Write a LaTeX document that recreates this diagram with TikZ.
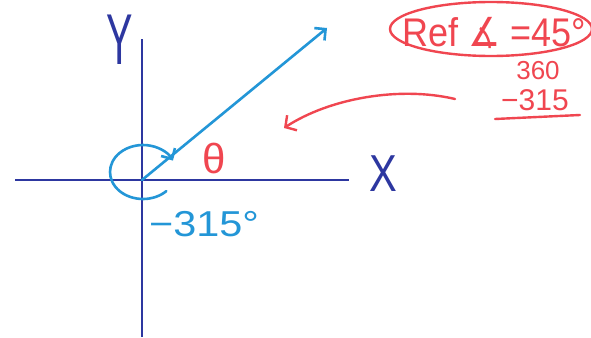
\documentclass[tikz,border=0pt]{standalone}
\usepackage{fontspec}
\setmainfont{Liberation Sans}
\newfontfamily\symfont{DejaVu Sans}
\usetikzlibrary{arrows.meta}
\definecolor{axisblue}{RGB}{45,55,160}
\definecolor{rayblue}{RGB}{35,150,215}
\definecolor{inkred}{RGB}{240,70,80}
\begin{document}
\begin{tikzpicture}[x=1pt,y=-1pt,
  axis/.style={draw=axisblue, line width=2.4pt},
  ray/.style={draw=rayblue, line width=2.6pt, line cap=round, -{Straight Barb[length=8pt,width=16pt,line width=2.6pt]}},
  redarrow/.style={draw=inkred, line width=2.4pt, line cap=round, -{Straight Barb[length=8pt,width=18pt,line width=2.4pt]}},
  redline/.style={draw=inkred, line width=2.4pt, line cap=round},
  lbl/.style={inner sep=0pt, outer sep=0pt}]
\useasboundingbox (0,0) rectangle (591,337);
\fill[white] (0,0) rectangle (591,337);
% axes
\coordinate (O) at (142,180);
\coordinate (xl) at (15,180);
\coordinate (xr) at (349,180);
\coordinate (yt) at (142,39);
\coordinate (yb) at (142,337);
\coordinate (rt) at (327,28);
\draw[axis] (xl) -- (xr);
\draw[axis] (yb) -- (yt);
\node[lbl, text=axisblue, font=\fontsize{52}{52}\selectfont, xscale=0.8] (X) at (383,174) {X};
\node[lbl, text=axisblue, font=\fontsize{72}{72}\selectfont, xscale=0.55] (Y) at (120,40) {Y};
% terminal ray
\draw[ray] (O) -- (rt);
% rotation arc
\coordinate (C) at (143,172);
\draw[ray] ([shift={(45:33 and 27)}]C) arc[start angle=45, end angle=335, x radius=33, y radius=27];
\node[lbl, text=inkred, font=\fontsize{42}{42}\selectfont] (theta) at (214,158) {θ};
\node[lbl, text=rayblue, font=\fontsize{36}{36}\selectfont, xscale=1.15] (ang) at (204,224) {−315°};
% reference angle
\draw[redline] (491,29) ellipse [x radius=101, y radius=27];
\node[lbl, text=inkred, font=\fontsize{40}{40}\selectfont, xscale=0.9] (ref) at (494,33) {Ref {\symfont ∡} =45°};
\node[lbl, text=inkred, font=\fontsize{26}{26}\selectfont] (n360) at (538,71) {360};
\node[lbl, text=inkred, font=\fontsize{30}{30}\selectfont] (n315) at (535,100) {−315};
\coordinate (u1) at (495,119);
\coordinate (u2) at (580,115);
\draw[redline] (u1) -- (u2);
% pointing arrow
\coordinate (ra) at (455,99);
\coordinate (rb) at (284,128);
\draw[redarrow] (ra) .. controls (400,86) and (330,98) .. (rb);
\end{tikzpicture}
\end{document}
